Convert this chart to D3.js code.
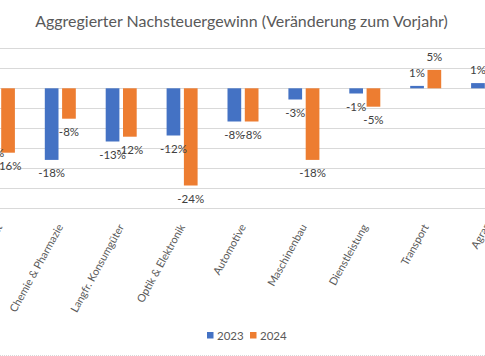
<!DOCTYPE html>
<html><head><meta charset="utf-8">
<script src="https://cdn.jsdelivr.net/npm/d3@7/dist/d3.min.js"></script>
<style>body{margin:0;background:#fff;overflow:hidden}</style>
</head><body>
<svg id="c" width="485" height="356"></svg>
<script>
const categories = ["Gesamt","Chemie & Pharmazie","Langfr. Konsumgüter","Optik & Elektronik","Automotive","Maschinenbau","Dienstleistung","Transport","Agrar"];
const seriesNames = ["2023","2024"];
const values2023 = [-13,-17.9,-13.3,-11.8,-8.3,-2.8,-1.3,0.6,1.3];
const values2024 = [-16.1,-7.6,-12.1,-24.3,-8.3,-17.9,-4.6,4.6,null];
const yTicks = [10,5,0,-5,-10,-15,-20,-25,-30];
const titleText = "Aggregierter Nachsteuergewinn (Veränderung zum Vorjahr)";
const colors = {"2023":"#4472C4","2024":"#ED7D31"};

const FONT = "Lato, 'Open Sans', sans-serif";
const svg = d3.select("#c");
const W = 485, H = 356;
svg.append("rect").attr("width",W).attr("height",H).attr("fill","#fff");

const step = 60.9, c0 = -0.6;
const x = d3.scaleBand().domain(categories)
  .range([c0 - step/2, c0 - step/2 + step*categories.length]).padding(0);
const y = d3.scaleLinear().domain([-30,10]).range([208.3,48.3]);

// gridlines
svg.append("g").selectAll("line").data(yTicks).join("line")
  .attr("x1",0).attr("x2",W)
  .attr("y1",d=>Math.round(y(d))+0.5).attr("y2",d=>Math.round(y(d))+0.5)
  .attr("stroke","#d9d9d9").attr("stroke-width",1);

const groupW = 31;
const xs = d3.scaleBand().domain(seriesNames).range([-groupW/2, groupW/2]).paddingInner(0.208).paddingOuter(0);

const data = [];
categories.forEach((c,i)=>{
  [[ "2023", values2023[i]],["2024", values2024[i]]].forEach(([s,v])=>{
    if (v !== null && v !== undefined) data.push({c,s,v});
  });
});

const bx = d => x(d.c) + x.bandwidth()/2 + xs(d.s);
svg.append("g").selectAll("rect").data(data).join("rect")
  .attr("x", bx)
  .attr("width", xs.bandwidth())
  .attr("y", d => Math.min(y(d.v), y(0)))
  .attr("height", d => Math.abs(y(d.v) - y(0)))
  .attr("fill", d => colors[d.s]);

// data labels
svg.append("g").selectAll("text").data(data).join("text")
  .attr("x", d => bx(d) + xs.bandwidth()/2)
  .attr("y", d => d.v < 0 ? y(d.v) + 13 : y(d.v) - 13)
  .attr("dy","0.35em")
  .attr("text-anchor","middle")
  .attr("font-family",FONT).attr("font-size","11.5px")
  .attr("fill","#404040")
  .text(d => Math.round(d.v) + "%");

// category labels
svg.append("g").selectAll("text").data(categories).join("text")
  .attr("transform", d => `translate(${x(d)+x.bandwidth()/2},${225}) rotate(-61)`)
  .attr("dy","0.35em")
  .attr("text-anchor","end")
  .attr("font-family",FONT).attr("font-size","10.8px")
  .attr("fill","#595959")
  .text(d=>d);

// title
const t = svg.append("text").attr("x",241.5).attr("y",21).attr("dy","0.35em")
  .attr("text-anchor","middle").attr("font-family",FONT).attr("font-size","17px")
  .attr("fill","#595959").text(titleText);
const tw = t.node().getComputedTextLength();
t.attr("font-size", (17*413/tw).toFixed(2)+"px");

// legend
const leg = svg.append("g");
const legX = [207, 250];
seriesNames.forEach((s,i)=>{
  leg.append("rect").attr("x",legX[i]).attr("y",332).attr("width",6.5).attr("height",6.5).attr("fill",colors[s]);
  leg.append("text").attr("x",legX[i]+10).attr("y",335.5).attr("dy","0.35em")
    .attr("font-family",FONT).attr("font-size","11.5px").attr("fill","#595959").text(s);
});

// bottom border
svg.append("line").attr("x1",0).attr("x2",W).attr("y1",355.5).attr("y2",355.5)
  .attr("stroke","#d9d9d9").attr("stroke-dasharray","1,1");
</script>
</body></html>
